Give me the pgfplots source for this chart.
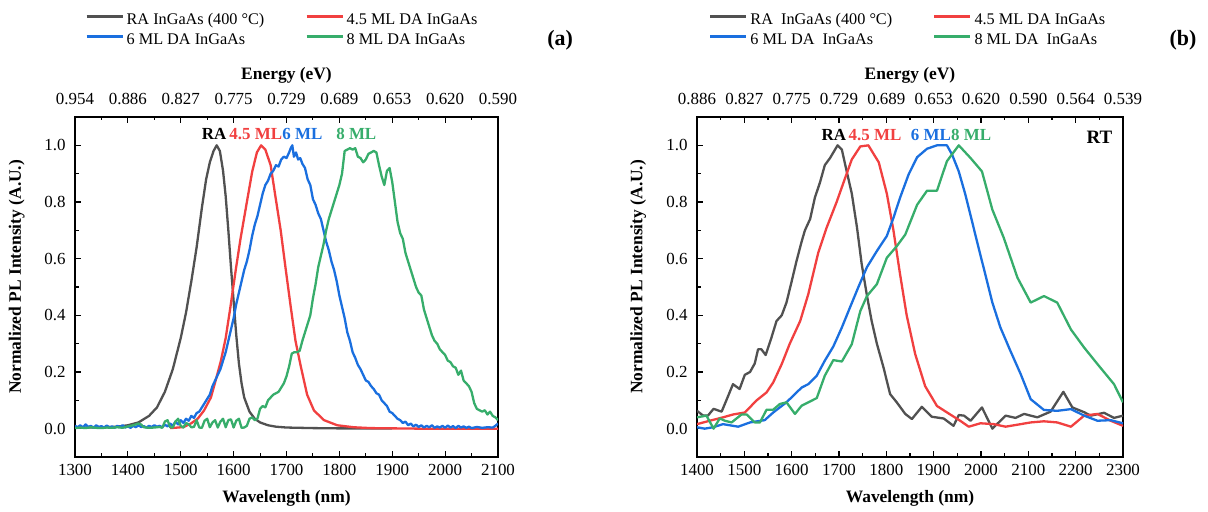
\documentclass[border=0pt]{standalone}
\usepackage{pgfplots}
\pgfplotsset{compat=1.18}
\usepackage{fontspec}
\setmainfont{Liberation Serif}
\definecolor{cRA}{HTML}{515151}
\definecolor{cR}{HTML}{F14040}
\definecolor{cB}{HTML}{1A6FDF}
\definecolor{cG}{HTML}{37AD6B}
\pgfplotsset{
  base/.style={
    scale only axis, height=340bp, anchor=south west,
    ymin=-0.1, ymax=1.1,
    tick align=inside,
    major tick length=6bp, minor tick length=3.5bp,
    axis line style={line width=1.1bp},
    every tick/.style={line width=1.1bp, black},
    /pgf/number format/assume math mode=true,
    tick label style={font=\fontsize{17}{20}\selectfont},
  },
  mainax/.style={
    base,
    clip mode=individual,
    xtick pos=bottom, ytick pos=left,
    minor x tick num=1, minor y tick num=1,
    ytick={0,0.2,0.4,0.6,0.8,1.0},
    yticklabel style={/pgf/number format/fixed,/pgf/number format/fixed zerofill,/pgf/number format/precision=1, xshift=-6bp},
    xticklabel style={/pgf/number format/set thousands separator={}, yshift=-4bp},
    every axis x label/.style={at={(axis description cs:0.5,-0.1206)},anchor=center,font=\fontsize{17.5}{20}\selectfont\bfseries},
    every axis y label/.style={at={(axis description cs:-0.138,0.53)},rotate=90,anchor=center,font=\fontsize{17.5}{20}\selectfont\bfseries},
    xlabel={Wavelength (nm)},
    ylabel={Normalized PL Intensity (A.U.)},
    legend columns=2,
    legend cell align=left,
    legend style={draw=none, fill=none, inner sep=0pt, anchor=north west,
      font=\fontsize{16.3}{19}\selectfont,
      nodes={inner xsep=3bp, inner ysep=2bp, text height=12bp, text depth=4bp},
      /tikz/every even column/.append style={column sep=38bp}},
    legend image code/.code={\draw[##1] (0bp,4.5bp) -- (36bp,4.5bp);},
  },
  topax/.style={
    base,
    axis x line*=top, axis y line=none, tick align=inside,
    minor x tick num=1,
    xticklabel style={yshift=9bp},
    every axis x label/.style={at={(axis description cs:0.5,1.1235)},anchor=center,font=\fontsize{17.5}{20}\selectfont\bfseries},
    xlabel={Energy (eV)},
  },
  pl/.style={line width=2.3bp, line join=round},
}
\begin{document}
\begin{tikzpicture}
\useasboundingbox (0,0) rectangle (1208bp,512bp);
% ---------------- panel (a)
\begin{axis}[mainax, at={(75bp,55bp)}, width=423bp,
  xmin=1300, xmax=2100, xtick={1300,1400,...,2100},
  legend style={at={(axis description cs:0.024,1.3124)}}]
\addplot[pl, cRA] table {
1300 0.003
1320 0.004
1340 0.004
1360 0.005
1380 0.007
1400 0.012
1420 0.022
1440 0.045
1455 0.075
1470 0.13
1485 0.21
1500 0.32
1510 0.41
1520 0.52
1530 0.64
1540 0.78
1548 0.88
1555 0.94
1562 0.98
1568 1.0
1574 0.98
1580 0.91
1585 0.82
1590 0.70
1595 0.57
1600 0.45
1605 0.33
1610 0.23
1615 0.16
1620 0.11
1630 0.06
1640 0.035
1650 0.022
1665 0.012
1680 0.007
1700 0.004
1750 0.002
1800 0.001
1900 0.001
};
\addlegendentry{RA InGaAs (400 °C)}
\addplot[pl, cR] table {
1480 0.002
1495 0.004
1506 0.006
1519 0.018
1532 0.035
1544 0.064
1557 0.11
1566 0.17
1576 0.24
1585 0.32
1594 0.43
1604 0.56
1613 0.67
1626 0.81
1635 0.906
1644 0.975
1652 1.0
1660 0.985
1670 0.93
1679 0.82
1689 0.70
1698 0.57
1708 0.43
1717 0.31
1727 0.22
1739 0.12
1752 0.064
1771 0.03
1796 0.012
1827 0.005
1859 0.002
1953 0.0
2100 0.0
};
\addlegendentry{4.5 ML DA InGaAs}
\addplot[pl, cB] table {
1300 0.010
1305 0.005
1310 0.012
1315 0.004
1320 0.015
1325 0.006
1330 0.010
1335 0.003
1340 0.012
1345 0.006
1350 0.009
1355 0.004
1360 0.011
1365 0.005
1370 0.008
1375 0.003
1380 0.010
1385 0.006
1390 0.012
1395 0.004
1400 0.008
1405 0.003
1410 0.010
1415 0.005
1420 0.012
1425 0.006
1430 0.009
1435 0.004
1440 0.010
1445 0.006
1450 0.012
1455 0.007
1460 0.010
1465 0.005
1470 0.014
1475 0.008
1480 0.018
1485 0.010
1490 0.025
1495 0.015
1500 0.030
1505 0.020
1510 0.035
1515 0.028
1520 0.045
1525 0.038
1530 0.055
1535 0.060
1540 0.075
1545 0.090
1550 0.105
1555 0.120
1560 0.150
1565 0.170
1570 0.190
1575 0.210
1580 0.240
1585 0.270
1590 0.310
1595 0.350
1600 0.390
1605 0.440
1610 0.480
1615 0.520
1620 0.560
1625 0.590
1630 0.630
1635 0.680
1640 0.720
1645 0.750
1650 0.790
1655 0.830
1660 0.860
1665 0.875
1670 0.900
1675 0.910
1680 0.930
1685 0.925
1690 0.950
1695 0.960
1700 0.955
1705 0.975
1708 0.990
1711 1.000
1714 0.960
1718 0.975
1722 0.950
1726 0.955
1730 0.935
1735 0.920
1740 0.880
1745 0.860
1750 0.810
1755 0.790
1760 0.760
1765 0.740
1770 0.700
1775 0.660
1780 0.630
1785 0.590
1790 0.560
1795 0.520
1800 0.470
1805 0.430
1810 0.390
1815 0.340
1820 0.310
1825 0.270
1830 0.250
1835 0.225
1840 0.210
1845 0.190
1850 0.170
1855 0.165
1860 0.150
1865 0.140
1870 0.125
1875 0.120
1880 0.100
1885 0.090
1890 0.080
1895 0.060
1900 0.055
1905 0.045
1910 0.035
1915 0.030
1920 0.020
1925 0.025
1930 0.012
1935 0.018
1940 0.008
1945 0.014
1950 0.006
1955 0.012
1960 0.004
1965 0.010
1970 0.005
1975 0.012
1980 0.003
1985 0.008
1990 0.004
1995 0.010
2000 0.003
2005 0.011
2010 0.004
2015 0.009
2020 0.002
2025 0.010
2030 0.004
2035 0.008
2040 0.003
2045 0.007
2050 0.002
2060 0.006
2070 0.003
2080 0.005
2090 0.004
2095 0.010
2100 0.018
};
\addlegendentry{6 ML DA InGaAs}
\addplot[pl, cG] table {
1300 0.002
1310 0.004
1320 0.002
1330 0.005
1340 0.003
1350 0.002
1360 0.004
1370 0.003
1380 0.005
1390 0.003
1400 0.008
1410 0.012
1420 0.018
1425 0.015
1430 0.005
1440 0.003
1450 0.004
1460 0.006
1465 0.003
1470 0.025
1475 0.030
1480 0.005
1485 0.004
1490 0.025
1495 0.035
1500 0.010
1505 0.004
1510 0.020
1515 0.015
1520 0.005
1525 0.006
1530 0.030
1535 0.004
1540 0.003
1545 0.028
1550 0.035
1555 0.005
1560 0.022
1565 0.030
1570 0.004
1575 0.025
1580 0.035
1585 0.005
1590 0.030
1595 0.033
1600 0.004
1605 0.028
1610 0.035
1615 0.003
1620 0.004
1625 0.010
1630 0.035
1635 0.040
1640 0.030
1645 0.035
1650 0.070
1655 0.080
1660 0.075
1665 0.100
1670 0.110
1675 0.120
1680 0.125
1685 0.130
1690 0.145
1695 0.160
1700 0.185
1705 0.220
1710 0.265
1715 0.270
1720 0.270
1725 0.275
1730 0.310
1735 0.340
1740 0.370
1745 0.400
1750 0.460
1755 0.510
1760 0.570
1765 0.610
1770 0.650
1775 0.700
1780 0.740
1785 0.770
1790 0.800
1795 0.830
1800 0.860
1805 0.900
1810 0.980
1815 0.985
1820 0.990
1825 0.985
1830 0.990
1835 0.960
1840 0.955
1845 0.940
1850 0.950
1855 0.970
1860 0.975
1865 0.980
1870 0.975
1875 0.930
1880 0.890
1885 0.860
1890 0.910
1895 0.920
1900 0.870
1905 0.800
1910 0.730
1915 0.690
1920 0.670
1925 0.620
1930 0.590
1935 0.560
1940 0.530
1945 0.500
1950 0.480
1955 0.470
1960 0.420
1965 0.390
1970 0.360
1975 0.330
1980 0.310
1985 0.300
1990 0.280
1995 0.270
2000 0.260
2005 0.240
2010 0.235
2015 0.220
2020 0.215
2025 0.190
2030 0.205
2035 0.170
2040 0.160
2045 0.150
2050 0.130
2055 0.090
2060 0.070
2065 0.065
2070 0.060
2075 0.065
2080 0.050
2085 0.060
2090 0.045
2095 0.040
2100 0.030
};
\addlegendentry{8 ML DA InGaAs}
\node[font=\fontsize{17}{20}\selectfont\bfseries, text=black] at (axis cs:1563,1.04) {RA};
\node[font=\fontsize{17}{20}\selectfont\bfseries, text=cR] at (axis cs:1642,1.04) {4.5 ML};
\node[font=\fontsize{17}{20}\selectfont\bfseries, text=cB] at (axis cs:1730,1.04) {6 ML};
\node[font=\fontsize{17}{20}\selectfont\bfseries, text=cG] at (axis cs:1832,1.04) {8 ML};
\node[font=\fontsize{22}{24}\selectfont\bfseries] at (axis description cs:1.147,1.226) {(a)};
\end{axis}
\begin{axis}[topax, at={(75bp,55bp)}, width=423bp,
  xmin=1300, xmax=2100, xtick={1300,1400,...,2100},
  xticklabels={0.954,0.886,0.827,0.775,0.729,0.689,0.653,0.620,0.590}]
\addplot[draw=none] coordinates {(1300,0)};
\end{axis}
% ---------------- panel (b)
\begin{axis}[mainax, at={(697bp,55bp)}, width=426bp,
  xmin=1400, xmax=2300, xtick={1400,1500,...,2300},
  legend style={at={(axis description cs:0.028,1.3124)}}]
\addplot[pl, cRA] table {
1400 0.063
1413 0.046
1423 0.046
1435 0.070
1452 0.060
1462 0.100
1476 0.157
1490 0.140
1501 0.190
1512 0.200
1522 0.230
1529 0.280
1536 0.280
1545 0.260
1557 0.320
1568 0.380
1579 0.400
1589 0.445
1600 0.520
1610 0.590
1621 0.660
1628 0.700
1639 0.740
1649 0.815
1660 0.870
1670 0.930
1681 0.955
1697 1.000
1706 0.985
1716 0.910
1727 0.830
1738 0.710
1748 0.580
1759 0.470
1769 0.380
1780 0.300
1794 0.216
1808 0.122
1822 0.093
1840 0.052
1854 0.034
1875 0.077
1896 0.042
1921 0.036
1942 0.010
1953 0.048
1964 0.046
1978 0.028
2002 0.075
2024 0.000
2052 0.046
2073 0.038
2091 0.052
2119 0.040
2147 0.060
2174 0.130
2193 0.075
2218 0.058
2232 0.046
2260 0.056
2281 0.038
2300 0.046
};
\addlegendentry{RA\ \ InGaAs (400 °C)}
\addplot[pl, cR] table {
1400 0.016
1427 0.028
1455 0.040
1476 0.050
1501 0.057
1526 0.100
1547 0.128
1561 0.163
1579 0.228
1596 0.300
1618 0.380
1635 0.474
1656 0.620
1674 0.710
1695 0.800
1713 0.885
1727 0.950
1745 0.996
1762 1.000
1784 0.940
1801 0.830
1815 0.700
1829 0.545
1843 0.400
1861 0.263
1882 0.150
1907 0.080
1935 0.050
1956 0.028
1974 0.007
1999 0.019
2027 0.016
2052 0.007
2077 0.014
2105 0.022
2133 0.026
2161 0.022
2190 0.007
2218 0.046
2246 0.052
2274 0.028
2300 0.010
};
\addlegendentry{4.5 ML DA InGaAs}
\addplot[pl, cB] table {
1400 0.005
1416 0.000
1434 0.005
1455 0.016
1487 0.007
1512 0.022
1543 0.030
1561 0.057
1589 0.093
1621 0.145
1635 0.157
1653 0.187
1670 0.240
1688 0.290
1706 0.357
1723 0.427
1741 0.500
1759 0.570
1780 0.627
1801 0.680
1815 0.744
1829 0.815
1847 0.897
1865 0.958
1886 0.988
1907 1.000
1928 1.000
1939 0.967
1953 0.908
1967 0.826
1981 0.732
1995 0.638
2009 0.545
2024 0.445
2041 0.357
2062 0.275
2084 0.192
2105 0.104
2133 0.066
2161 0.063
2190 0.069
2218 0.046
2246 0.028
2274 0.030
2300 0.019
};
\addlegendentry{6 ML DA\ \ InGaAs}
\addplot[pl, cG] table {
1400 0.040
1420 0.046
1435 0.000
1448 0.036
1459 0.028
1473 0.022
1494 0.050
1505 0.050
1522 0.022
1533 0.022
1547 0.067
1561 0.067
1575 0.087
1589 0.093
1607 0.052
1621 0.081
1653 0.108
1670 0.187
1688 0.242
1706 0.237
1727 0.298
1745 0.415
1759 0.468
1780 0.510
1801 0.603
1822 0.644
1840 0.685
1865 0.790
1886 0.840
1907 0.840
1928 0.944
1953 1.000
1978 0.955
2002 0.908
2024 0.773
2048 0.674
2077 0.533
2105 0.445
2133 0.468
2161 0.445
2190 0.350
2218 0.286
2246 0.228
2281 0.157
2300 0.093
};
\addlegendentry{8 ML DA\ \ InGaAs}
\node[font=\fontsize{17}{20}\selectfont\bfseries, text=black] at (axis cs:1689,1.037) {RA};
\node[font=\fontsize{17}{20}\selectfont\bfseries, text=cR] at (axis cs:1776,1.037) {4.5 ML};
\node[font=\fontsize{17}{20}\selectfont\bfseries, text=cB] at (axis cs:1894,1.037) {6 ML};
\node[font=\fontsize{17}{20}\selectfont\bfseries, text=cG] at (axis cs:1979,1.037) {8 ML};
\node[font=\fontsize{19}{22}\selectfont\bfseries] at (axis cs:2250,1.028) {RT};
\node[font=\fontsize{22}{24}\selectfont\bfseries] at (axis description cs:1.141,1.226) {(b)};
\end{axis}
\begin{axis}[topax, at={(697bp,55bp)}, width=426bp,
  xmin=1400, xmax=2300, xtick={1400,1500,...,2300},
  xticklabels={0.886,0.827,0.775,0.729,0.689,0.653,0.620,0.590,0.564,0.539}]
\addplot[draw=none] coordinates {(1400,0)};
\end{axis}
\end{tikzpicture}
\end{document}
